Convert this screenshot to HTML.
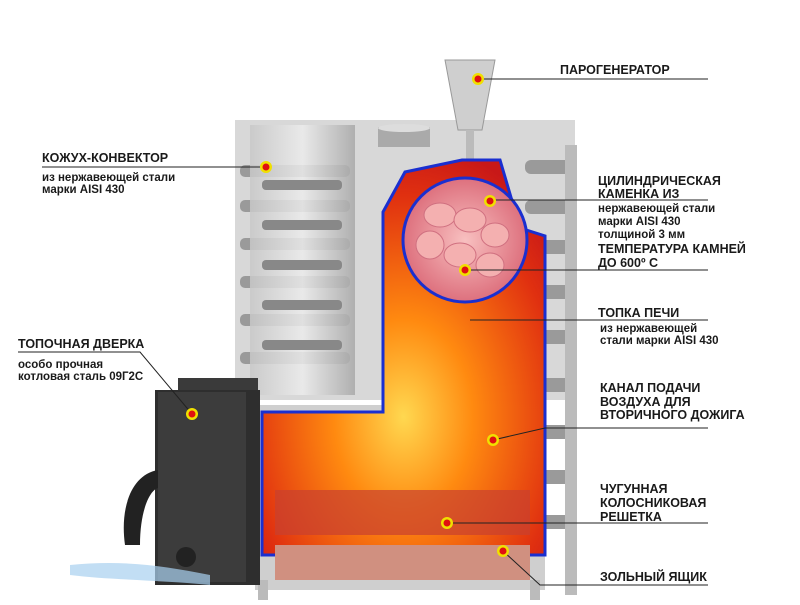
<!DOCTYPE html>
<html><head><meta charset="utf-8"><style>
body{margin:0;width:800px;height:600px;overflow:hidden;background:#fff;font-family:"Liberation Sans","DejaVu Sans",sans-serif}
svg text{font-family:"Liberation Sans","DejaVu Sans",sans-serif;font-weight:bold;fill:#1a1a1a}
</style></head><body>
<svg width="800" height="600" viewBox="0 0 800 600">
<defs>
<linearGradient id="st" x1="0" x2="1"><stop offset="0" stop-color="#c8c8c8"/><stop offset=".5" stop-color="#ececec"/><stop offset="1" stop-color="#a8a8a8"/></linearGradient>
<radialGradient id="fire" cx=".5" cy=".65" r=".7"><stop offset="0" stop-color="#ffd850"/><stop offset=".35" stop-color="#ff8a10"/><stop offset=".8" stop-color="#e03010"/><stop offset="1" stop-color="#c81818"/></radialGradient>
<radialGradient id="stone" cx=".5" cy=".5" r=".6"><stop offset="0" stop-color="#f8c0c0"/><stop offset="1" stop-color="#d86070"/></radialGradient>
</defs>
<rect x="235" y="120" width="340" height="280" fill="#d8d8d8"/>
<g fill="#9a9a9a">
<rect x="240" y="165" width="110" height="12" rx="5"/><rect x="240" y="200" width="110" height="12" rx="5"/><rect x="240" y="238" width="110" height="12" rx="5"/><rect x="240" y="276" width="110" height="12" rx="5"/><rect x="240" y="314" width="110" height="12" rx="5"/><rect x="240" y="352" width="110" height="12" rx="5"/>
<rect x="525" y="160" width="50" height="14" rx="6"/><rect x="525" y="200" width="50" height="14" rx="6"/><rect x="525" y="240" width="50" height="14" rx="6"/><rect x="525" y="285" width="50" height="14" rx="6"/><rect x="525" y="330" width="50" height="14" rx="6"/><rect x="525" y="378" width="50" height="14" rx="6"/><rect x="525" y="425" width="50" height="14" rx="6"/><rect x="525" y="470" width="50" height="14" rx="6"/><rect x="525" y="515" width="50" height="14" rx="6"/>
</g>
<rect x="250" y="125" width="105" height="270" fill="url(#st)" opacity=".85"/>
<g fill="#888"><rect x="262" y="180" width="80" height="10" rx="4"/><rect x="262" y="220" width="80" height="10" rx="4"/><rect x="262" y="260" width="80" height="10" rx="4"/><rect x="262" y="300" width="80" height="10" rx="4"/><rect x="262" y="340" width="80" height="10" rx="4"/></g>
<rect x="565" y="145" width="12" height="450" fill="#bbb"/>
<rect x="378" y="127" width="52" height="20" fill="#aaa"/><ellipse cx="404" cy="128" rx="26" ry="4" fill="#ddd"/>
<path d="M445 60 L495 60 L482 130 L458 130 Z" fill="#cfcfcf" stroke="#999"/>
<rect x="466" y="130" width="8" height="60" fill="#bbb"/>
<rect x="255" y="405" width="290" height="185" fill="#cfcfcf"/>
<path d="M383 212 L405 172 L462 160 L500 160 L520 228 L545 236 L545 555 L262 555 L262 412 L383 412 Z" fill="url(#fire)" stroke="#1a2fd0" stroke-width="3"/>
<rect x="275" y="490" width="255" height="45" fill="#c84030" opacity=".7"/>
<rect x="275" y="545" width="255" height="35" fill="#d09080"/>
<circle cx="465" cy="240" r="62" fill="url(#stone)" stroke="#1a2fd0" stroke-width="3"/>
<g fill="#f4b0b0" stroke="#d07080"><ellipse cx="440" cy="215" rx="16" ry="12"/><ellipse cx="470" cy="220" rx="16" ry="12"/><ellipse cx="495" cy="235" rx="14" ry="12"/><ellipse cx="430" cy="245" rx="14" ry="14"/><ellipse cx="460" cy="255" rx="16" ry="12"/><ellipse cx="490" cy="265" rx="14" ry="12"/></g>
<rect x="258" y="580" width="10" height="20" fill="#bbb"/><rect x="530" y="580" width="10" height="20" fill="#bbb"/>
<rect x="178" y="378" width="80" height="30" fill="#3a3a3a"/>
<rect x="155" y="390" width="105" height="195" fill="#2e2e2e"/>
<rect x="158" y="392" width="88" height="190" fill="#3c3c3c"/>
<path d="M158 470 C130 475 120 510 125 545 L140 545 C140 510 150 490 158 488 Z" fill="#222"/>
<circle cx="186" cy="557" r="10" fill="#222"/>
<path d="M70 565 C120 560 160 565 210 575 L210 585 C160 580 110 580 70 575Z" fill="#a8d0f0" opacity=".7"/>
<g stroke="#222" stroke-width="1" fill="none">
<line x1="478" y1="79" x2="708" y2="79"/>
<line x1="42" y1="167" x2="266" y2="167"/>
<line x1="490" y1="200" x2="708" y2="200"/>
<line x1="465" y1="270" x2="708" y2="270"/>
<line x1="470" y1="320" x2="708" y2="320"/>
<polyline points="18,352 140,352 192,414"/>
<polyline points="493,440 545,428 708,428"/>
<line x1="447" y1="523" x2="708" y2="523"/>
<polyline points="503,551 540,585 708,585"/>
</g>
<g fill="#f0e000"><circle cx="478" cy="79" r="6"/><circle cx="266" cy="167" r="6"/><circle cx="490" cy="201" r="6"/><circle cx="465" cy="270" r="6"/><circle cx="192" cy="414" r="6"/><circle cx="493" cy="440" r="6"/><circle cx="447" cy="523" r="6"/><circle cx="503" cy="551" r="6"/></g>
<g fill="#e01010"><circle cx="478" cy="79" r="3.5"/><circle cx="266" cy="167" r="3.5"/><circle cx="490" cy="201" r="3.5"/><circle cx="465" cy="270" r="3.5"/><circle cx="192" cy="414" r="3.5"/><circle cx="493" cy="440" r="3.5"/><circle cx="447" cy="523" r="3.5"/><circle cx="503" cy="551" r="3.5"/></g>
<g font-size="12.5">
<text x="560" y="74">ПАРОГЕНЕРАТОР</text>
<text x="42" y="162">КОЖУХ-КОНВЕКТОР</text>
<text x="598" y="185">ЦИЛИНДРИЧЕСКАЯ</text>
<text x="598" y="198">КАМЕНКА ИЗ</text>
<text x="598" y="253">ТЕМПЕРАТУРА КАМНЕЙ</text>
<text x="598" y="267">ДО 600º С</text>
<text x="598" y="317">ТОПКА ПЕЧИ</text>
<text x="18" y="348">ТОПОЧНАЯ ДВЕРКА</text>
<text x="600" y="392">КАНАЛ ПОДАЧИ</text>
<text x="600" y="406">ВОЗДУХА ДЛЯ</text>
<text x="600" y="419">ВТОРИЧНОГО ДОЖИГА</text>
<text x="600" y="493">ЧУГУННАЯ</text>
<text x="600" y="507">КОЛОСНИКОВАЯ</text>
<text x="600" y="521">РЕШЕТКА</text>
<text x="600" y="581">ЗОЛЬНЫЙ ЯЩИК</text>
</g>
<g font-size="11.5">
<text x="42" y="181">из нержавеющей стали</text>
<text x="42" y="193">марки AISI 430</text>
<text x="598" y="212">нержавеющей стали</text>
<text x="598" y="225">марки AISI 430</text>
<text x="598" y="238">толщиной 3 мм</text>
<text x="600" y="332">из нержавеющей</text>
<text x="600" y="344">стали марки AISI 430</text>
<text x="18" y="368">особо прочная</text>
<text x="18" y="380">котловая сталь 09Г2С</text>
</g>
</svg>
</body></html>
